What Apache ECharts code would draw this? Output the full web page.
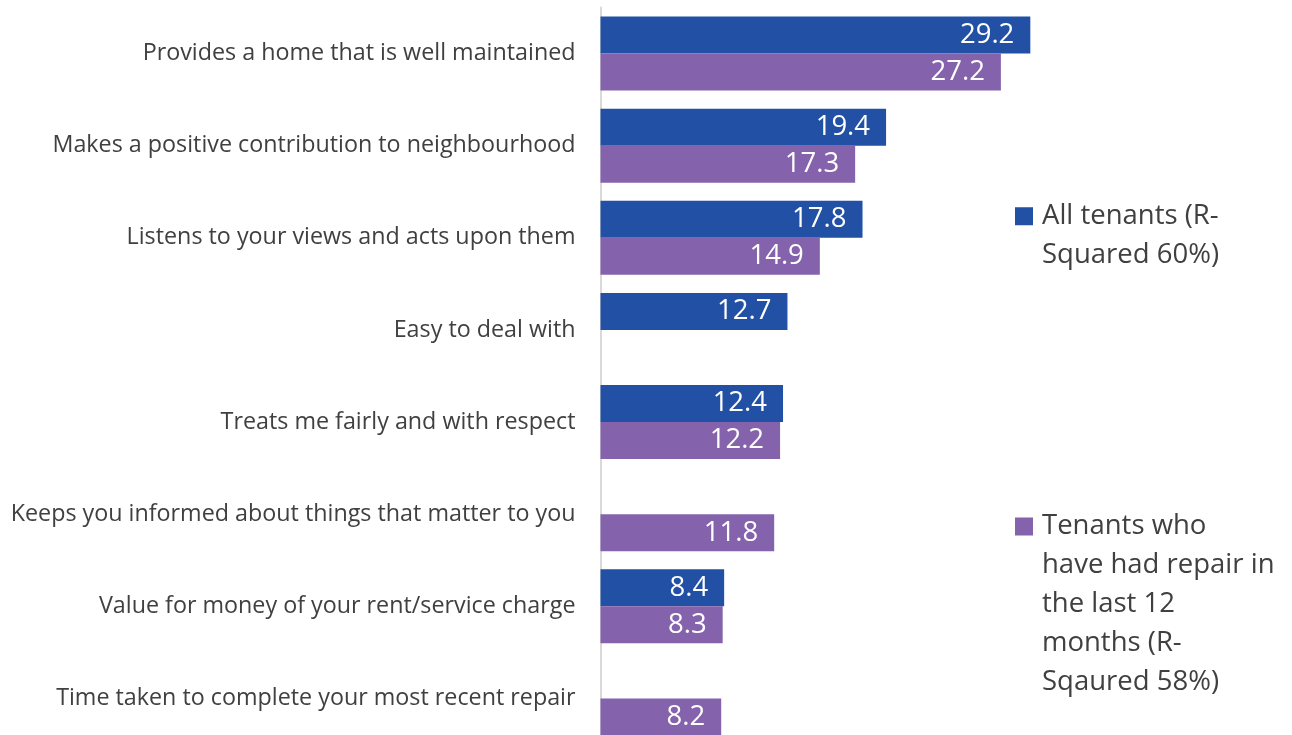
<!DOCTYPE html>
<html>
<head>
<meta charset="utf-8">
<script src="https://cdn.jsdelivr.net/npm/echarts@6/dist/echarts.min.js"></script>
<style>
html,body{margin:0;padding:0;background:#fff;}
#main{width:1292px;height:735px;}
</style>
</head>
<body>
<div id="main"></div>
<script>
var categories = [
	'Provides a home that is well maintained',
	'Makes a positive contribution to neighbourhood',
	'Listens to your views and acts upon them',
	'Easy to deal with',
	'Treats me fairly and with respect',
	'Keeps you informed about things that matter to you',
	'Value for money of your rent/service charge',
	'Time taken to complete your most recent repair'
];
var allTenants = [29.2, 19.4, 17.8, 12.7, 12.4, null, 8.4, null];
var repairTenants = [27.2, 17.3, 14.9, null, 12.2, 11.8, 8.3, 8.2];
var seriesNames = ['All tenants (R-\nSquared 60%)', 'Tenants who\nhave had repair in\nthe last 12\nmonths (R-\nSqaured 58%)'];

var FONT = '"Open Sans", sans-serif';
var myChart = echarts.init(document.getElementById('main'));

//图例方块放在第一行旁边: 透明点撑开图标范围
function legendIcon(h, lh){
	var t = lh / 2 - 9;
	return 'path://M0,0L0,0M22,' + h + 'L22,' + h + 'M0,' + t + 'h18v18h-18Z';
}
function legendItem(name, lines, lh, top){
	return {
		data: [name],
		left: 1015,
		top: top,
		padding: 0,
		icon: legendIcon(lines * lh, lh),
		itemWidth: 22,
		itemHeight: lines * lh,
		itemGap: 0,
		textStyle: {
			fontFamily: FONT,
			fontSize: 27.5,
			color: '#404040',
			lineHeight: lh
		}
	};
}

//数据标签
var barLabel = {
	show: true,
	position: 'insideRight',
	distance: 16,
	color: '#fff',
	fontFamily: FONT,
	fontSize: 27.5
};

option = {
	backgroundColor: '#fff',
	animation: false,
	grid: {
		left: 600.5,
		top: 7.5,
		width: 441.6,
		height: 737,
		outerBoundsMode: 'none',
		containLabel: false
	},
	legend: [
		legendItem(seriesNames[0], 2, 38.5, 197),
		legendItem(seriesNames[1], 5, 39, 507)
	],
	xAxis: {
		type: 'value',
		min: 0,
		max: 30,
		show: false
	},
	yAxis: {
		type: 'category',
		inverse: true,
		data: categories,
		axisLine: {lineStyle: {color: '#D9D9D9', width: 2}},
		axisTick: {show: false},
		axisLabel: {
			margin: 25,
			color: '#404040',
			fontFamily: FONT,
			fontSize: 23.3
		}
	},
	series: [{
		name: seriesNames[0],
		type: 'bar',
		data: allTenants,
		barGap: '0%',
		barCategoryGap: '19.6%',
		itemStyle: {color: '#2150A5'},
		label: barLabel
	}, {
		name: seriesNames[1],
		type: 'bar',
		data: repairTenants,
		barGap: '0%',
		barCategoryGap: '19.6%',
		itemStyle: {color: '#8462AC'},
		label: barLabel
	}]
};
myChart.setOption(option, true);
</script>
</body>
</html>
